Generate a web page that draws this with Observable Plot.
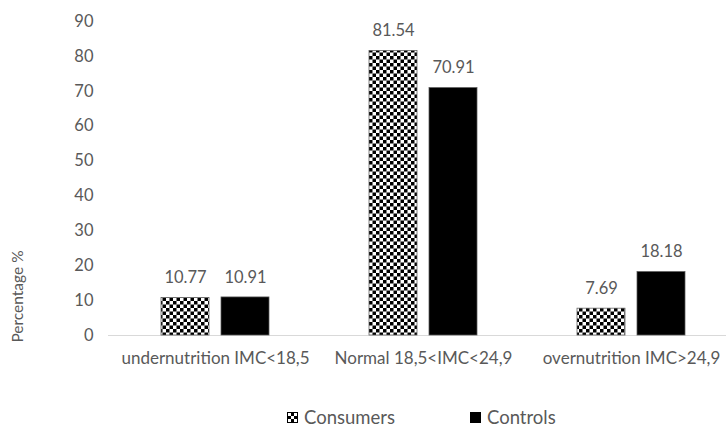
<!DOCTYPE html>
<html>
<head>
<meta charset="utf-8">
<script src="https://cdn.jsdelivr.net/npm/d3@7"></script>
<script src="https://cdn.jsdelivr.net/npm/@observablehq/plot@0.6"></script>
<style>
  body { margin: 0; background: #fff; font-family: Lato, "Open Sans", sans-serif; }
  #chart { position: relative; width: 726px; height: 428px; overflow: hidden; }
  #chart svg { display: block; }
  .legend { position: absolute; left: 0; top: 380px; width: 726px; height: 48px; color: #595959; font-size: 18.5px; line-height: 18px; }
  .legend .item { position: absolute; top: 37px; display: flex; align-items: center; transform: translateY(-50%); }
  .legend .sw { width: 11px; height: 11px; margin-right: 6px; box-sizing: border-box; border: 1px solid #000; }
</style>
</head>
<body>
<div id="chart"></div>
<script>
// BMI categories and percentage per group
const categories = ["undernutrition IMC<18,5", "Normal 18,5<IMC<24,9", "overnutrition IMC>24,9"];
const consumers = [10.77, 81.54, 7.69];
const controls = [10.91, 70.91, 18.18];
const yTicks = [0, 10, 20, 30, 40, 50, 60, 70, 80, 90];
const seriesNames = ["Consumers", "Controls"];

const rows = categories.flatMap((c, i) => [
  {category: c, group: seriesNames[0], value: consumers[i]},
  {category: c, group: seriesNames[1], value: controls[i]}
]);
const consumerRows = rows.filter(d => d.group === seriesNames[0]);
const controlRows = rows.filter(d => d.group === seriesNames[1]);

const grey = "#595959";
const font = "Lato, 'Open Sans', sans-serif";
const barInset = 80;
const shift = 30;

const plot = Plot.plot({
  width: 726,
  height: 380,
  marginLeft: 108,
  marginRight: 0,
  marginTop: 21,
  marginBottom: 45,
  style: {fontFamily: font, fontSize: "16px", color: grey, background: "#fff"},
  x: {type: "band", domain: categories, range: [111, 735], padding: 0, label: null},
  y: {domain: [0, 90], label: null},
  marks: [
    Plot.axisY({ticks: yTicks, tickSize: 0, tickPadding: 15, fill: grey, fontSize: 16.5, label: null}),
    Plot.axisX({tickSize: 0, tickPadding: 16, fill: grey, fontSize: 17, label: null}),
    Plot.ruleY([0], {stroke: "#d9d9d9", strokeWidth: 1.2}),
    Plot.barY(consumerRows, {x: "category", y: "value", dx: -shift, insetLeft: barInset, insetRight: barInset,
      fill: "url(#checker)", stroke: grey, strokeWidth: 0.75}),
    Plot.barY(controlRows, {x: "category", y: "value", dx: shift, insetLeft: barInset, insetRight: barInset,
      fill: "#000", stroke: grey, strokeWidth: 0.75}),
    Plot.text(consumerRows, {x: "category", y: "value", dx: -shift, dy: -20, text: d => d.value.toFixed(2),
      fill: grey, fontSize: 16.5}),
    Plot.text(controlRows, {x: "category", y: "value", dx: shift, dy: -20, text: d => d.value.toFixed(2),
      fill: grey, fontSize: 16.5}),
    Plot.text(["Percentage %"], {frameAnchor: "bottom-left", dx: -86, dy: -39, rotate: -90,
      textAnchor: "middle", fill: grey, fontSize: 15.5})
  ]
});

// checkerboard fill used by the Consumers bars
const defs = d3.select(plot).insert("defs", ":first-child");
const pat = defs.append("pattern").attr("id", "checker").attr("patternUnits", "userSpaceOnUse")
  .attr("width", 7).attr("height", 7);
pat.append("rect").attr("width", 7).attr("height", 7).attr("fill", "#fff");
pat.append("rect").attr("width", 3.5).attr("height", 3.5).attr("fill", "#000");
pat.append("rect").attr("x", 3.5).attr("y", 3.5).attr("width", 3.5).attr("height", 3.5).attr("fill", "#000");

const chart = document.getElementById("chart");
chart.appendChild(plot);

// legend below the chart
const legend = d3.select(chart).append("div").attr("class", "legend");
const items = [
  {name: seriesNames[0], left: 287, fill: "checker"},
  {name: seriesNames[1], left: 470, fill: "solid"}
];
for (const it of items) {
  const item = legend.append("div").attr("class", "item").style("left", it.left + "px");
  const sw = item.append("div").attr("class", "sw");
  if (it.fill === "solid") sw.style("background", "#000");
  else sw.style("background", "repeating-conic-gradient(#000 0 25%, #fff 0 50%) 0 0 / 6px 6px");
  item.append("span").text(it.name);
}
</script>
</body>
</html>
